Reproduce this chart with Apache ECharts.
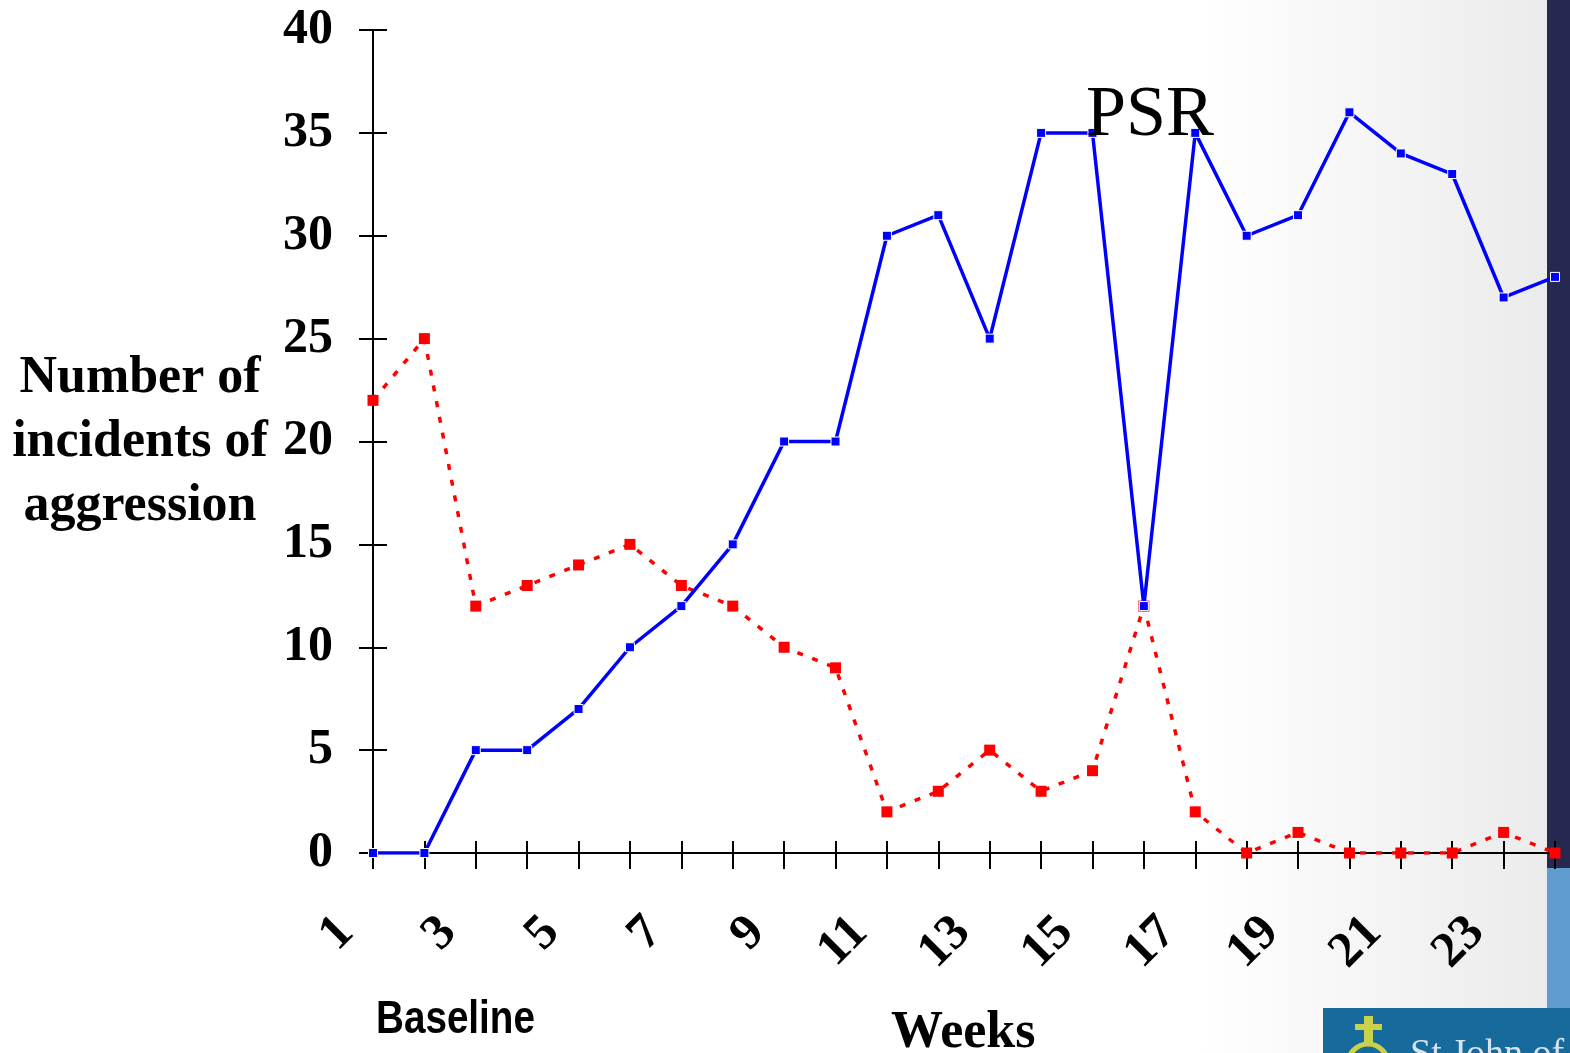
<!DOCTYPE html>
<html>
<head>
<meta charset="utf-8">
<script src="https://cdn.jsdelivr.net/npm/echarts@6/dist/echarts.min.js"></script>
<style>
  html, body { margin: 0; padding: 0; background: #ffffff; }
  #chart { width: 1570px; height: 1053px; }
</style>
</head>
<body>
<div id="chart"></div>
<script>
const weeks = ['1','2','3','4','5','6','7','8','9','10','11','12','13','14','15','16','17','18','19','20','21','22','23','24'];
const psrSeries = [0,0,5,5,7,10,12,15,20,20,30,31,25,35,35,12,35,30,31,36,34,33,27,28];
const otherSeries = [22,25,12,13,14,15,13,12,10,9,2,3,5,3,4,12,2,0,1,0,0,0,1,0];
const yTicks = [0,5,10,15,20,25,30,35,40];

const chart = echarts.init(document.getElementById('chart'), null, { renderer: 'canvas' });
const serif = '"Liberation Serif", "Times New Roman", serif';

const option = {
  backgroundColor: '#ffffff',
  animation: false,
  grid: { left: 373, right: 15, top: 30, bottom: 200, containLabel: false },
  xAxis: [
    {
      type: 'category', data: weeks, boundaryGap: false, position: 'bottom',
      axisLine: { lineStyle: { color: '#000', width: 2 } },
      axisTick: { show: true, interval: 0, length: 16, lineStyle: { color: '#000', width: 2 } },
      axisLabel: {
        interval: 1, rotate: 45, margin: 45, padding: [0, 38, 0, 0],
        fontFamily: serif, fontWeight: 'bold', fontSize: 50, color: '#000'
      },
      splitLine: { show: false }
    },
    {
      type: 'category', data: weeks, boundaryGap: false, position: 'bottom', gridIndex: 0,
      axisLine: { show: false },
      axisTick: { show: true, inside: true, interval: 0, length: 12, lineStyle: { color: '#000', width: 2 } },
      axisLabel: { show: false },
      splitLine: { show: false }
    }
  ],
  yAxis: [
    {
      type: 'value', min: 0, max: 40, interval: 5,
      axisLine: { show: true, lineStyle: { color: '#000', width: 2 } },
      axisTick: { show: true, length: 14, lineStyle: { color: '#000', width: 2 } },
      axisLabel: {
        margin: 40, fontFamily: serif, fontWeight: 'bold', fontSize: 50, color: '#000',
        formatter: v => yTicks.includes(v) ? String(v) : ''
      },
      splitLine: { show: false }
    },
    {
      type: 'value', min: 0, max: 40, interval: 5, position: 'left',
      axisLine: { show: false },
      axisTick: { show: true, inside: true, length: 14, lineStyle: { color: '#000', width: 2 } },
      axisLabel: { show: false },
      splitLine: { show: false }
    }
  ],
  graphic: [
    {
      type: 'rect', z: -10, silent: true,
      shape: { x: 1200, y: 0, width: 350, height: 1053 },
      style: { fill: {
        type: 'linear', x: 1200, y: 0, x2: 1547, y2: 0, global: true,
        colorStops: [ { offset: 0, color: '#ffffff' }, { offset: 1, color: '#ebebeb' } ]
      } }
    },
    { type: 'rect', z: -5, silent: true, shape: { x: 1547, y: 0, width: 23, height: 868 }, style: { fill: '#262850' } },
    { type: 'rect', z: -5, silent: true, shape: { x: 1547, y: 868, width: 23, height: 140 }, style: { fill: '#609cd0' } },
    { type: 'rect', z: 50, silent: true, shape: { x: 1323, y: 1008, width: 247, height: 45 }, style: { fill: '#176a9c' } },
    { type: 'circle', z: 51, silent: true, shape: { cx: 1368, cy: 1064, r: 20 }, style: { fill: 'none', stroke: '#c9d24a', lineWidth: 5 } },
    { type: 'rect', z: 51, silent: true, shape: { x: 1364, y: 1016, width: 9, height: 26 }, style: { fill: '#c9d24a' } },
    { type: 'rect', z: 51, silent: true, shape: { x: 1355, y: 1024, width: 27, height: 6 }, style: { fill: '#c9d24a' } },
    {
      type: 'text', z: 52, silent: true, x: 1410, y: 1036,
      style: { text: 'St John of God', font: '38px ' + serif, fill: '#d6e4ee', textVerticalAlign: 'top' }
    },
    {
      type: 'text', z: 100, silent: true, x: 140, y: 443,
      style: {
        text: 'Number of\nincidents of\naggression', font: 'bold 52px ' + serif, fill: '#000',
        textAlign: 'center', textVerticalAlign: 'middle', lineHeight: 64
      }
    },
    {
      type: 'text', z: 100, silent: true, x: 1086, y: 152,
      style: { text: 'PSR', font: '72px ' + serif, fill: '#000', textAlign: 'left', textVerticalAlign: 'bottom' }
    },
    {
      type: 'text', z: 100, silent: true, x: 891, y: 1060,
      style: { text: 'Weeks', font: 'bold 52px ' + serif, fill: '#000', textAlign: 'left', textVerticalAlign: 'bottom' }
    },
    {
      type: 'text', z: 100, silent: true, x: 376, y: 1043, scaleX: 0.84,
      style: { text: 'Baseline', font: 'bold 46px "Liberation Sans", Arial, sans-serif', fill: '#000', textAlign: 'left', textVerticalAlign: 'bottom' }
    }
  ],
  series: [
    {
      name: 'Other', type: 'line', data: otherSeries, z: 3,
      symbol: 'rect', symbolSize: 11, showSymbol: true,
      lineStyle: { color: '#ff0000', width: 3.5, type: [6, 10] },
      itemStyle: { color: '#ff0000', borderWidth: 0 }
    },
    {
      name: 'PSR', type: 'line', data: psrSeries, z: 4,
      symbol: 'rect', symbolSize: 9, showSymbol: true,
      lineStyle: { color: '#0000ff', width: 3.5 },
      itemStyle: { color: '#0000ff', borderColor: '#ffffff', borderWidth: 1 }
    }
  ]
};
chart.setOption(option);
</script>
</body>
</html>
